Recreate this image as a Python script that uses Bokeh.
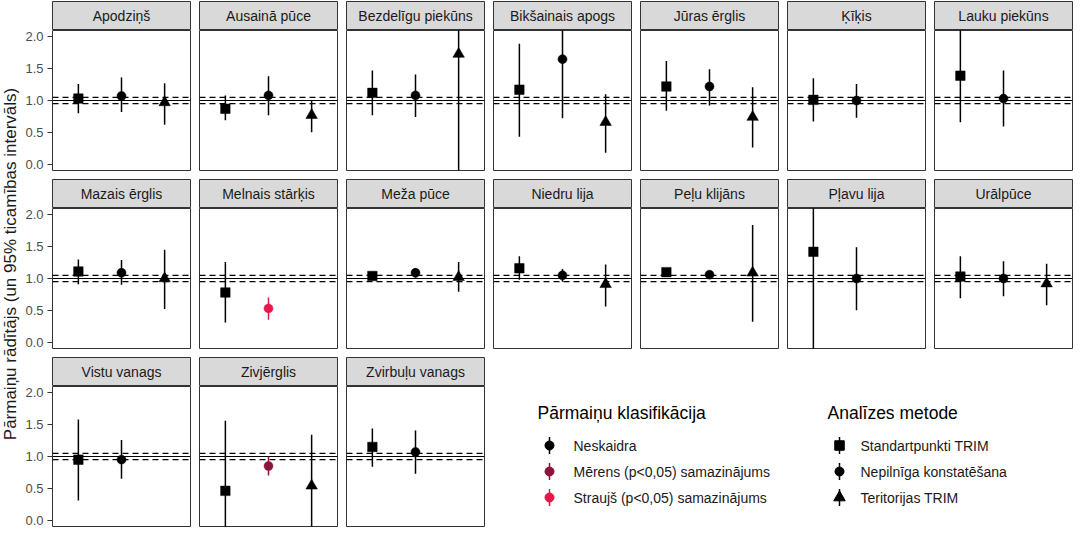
import math
from bokeh.plotting import figure
from bokeh.models import Range1d, Span, FixedTicker, PrintfTickFormatter, ColumnDataSource
from bokeh.layouts import row, column
from bokeh.embed import file_html
from bokeh.resources import INLINE
from bokeh.core.properties import value

# ---------------- data ----------------
species = ["Apodziņš", "Ausainā pūce", "Bezdelīgu piekūns", "Bikšainais apogs",
           "Jūras ērglis", "Ķīķis", "Lauku piekūns",
           "Mazais ērglis", "Melnais stārķis", "Meža pūce", "Niedru lija",
           "Peļu klijāns", "Pļavu lija", "Urālpūce",
           "Vistu vanags", "Zivjērglis", "Zvirbuļu vanags"]

methods = ["Standartpunkti TRIM", "Nepilnīga konstatēšana", "Teritorijas TRIM"]
classes = ["Neskaidra", "Mērens (p<0,05) samazinājums", "Straujš (p<0,05) samazinājums"]

# Standartpunkti TRIM
std_est = [1.03, 0.87, 1.12, 1.17, 1.22, 1.01, 1.39, 1.11, 0.78, 1.04, 1.16, 1.10, 1.42, 1.03, 0.95, 0.46, 1.15]
std_lo  = [0.80, 0.69, 0.77, 0.43, 0.84, 0.67, 0.66, 0.91, 0.31, 0.98, 0.98, 1.03, -0.20, 0.69, 0.31, -0.64, 0.84]
std_hi  = [1.26, 1.08, 1.47, 1.89, 1.62, 1.35, 2.14, 1.30, 1.26, 1.09, 1.35, 1.16, 3.04, 1.35, 1.58, 1.56, 1.44]
std_cls = ["Neskaidra"] * 17

# Nepilnīga konstatēšana
nep_est = [1.07, 1.08, 1.08, 1.65, 1.22, 1.00, 1.03, 1.09, 0.53, 1.09, 1.05, 1.06, 1.00, 1.00, 0.95, 0.85, 1.07]
nep_lo  = [0.82, 0.77, 0.74, 0.72, 0.92, 0.73, 0.59, 0.90, 0.35, 1.01, 0.95, 1.00, 0.50, 0.72, 0.65, 0.70, 0.73]
nep_hi  = [1.36, 1.38, 1.41, 2.58, 1.49, 1.26, 1.47, 1.29, 0.70, 1.16, 1.15, 1.11, 1.49, 1.27, 1.26, 1.00, 1.41]
nep_cls = ["Neskaidra", "Neskaidra", "Neskaidra", "Neskaidra", "Neskaidra", "Neskaidra", "Neskaidra",
           "Neskaidra", "Straujš (p<0,05) samazinājums", "Neskaidra", "Neskaidra", "Neskaidra",
           "Neskaidra", "Neskaidra", "Neskaidra", "Mērens (p<0,05) samazinājums", "Neskaidra"]

# Teritorijas TRIM
ter_est = [0.97, 0.77, 1.73, 0.66, 0.74, None, None, 1.00, None, 1.02, 0.91, 1.09, None, 0.92, None, 0.54, None]
ter_lo  = [0.62, 0.50, -0.30, 0.18, 0.26, None, None, 0.52, None, 0.79, 0.56, 0.32, None, 0.58, None, -0.26, None]
ter_hi  = [1.27, 1.00, 3.76, 1.10, 1.21, None, None, 1.45, None, 1.26, 1.22, 1.84, None, 1.23, None, 1.34, None]
ter_cls = ["Neskaidra"] * 17

ref_line = 1.0
ref_band = [0.95, 1.05]
y_ticks = [0.0, 0.5, 1.0, 1.5, 2.0]

# ---------------- styles ----------------
FONT = "Liberation Sans"
class_color = {"Neskaidra": "#000000",
               "Mērens (p<0,05) samazinājums": "#8B1538",
               "Straujš (p<0,05) samazinājums": "#E8174A"}
method_marker = {"Standartpunkti TRIM": "square",
                 "Nepilnīga konstatēšana": "circle",
                 "Teritorijas TRIM": "triangle"}
method_size = {"Standartpunkti TRIM": 9.5,
               "Nepilnīga konstatēšana": 9,
               "Teritorijas TRIM": 11.5}

series = [(std_est, std_lo, std_hi, std_cls),
          (nep_est, nep_lo, nep_hi, nep_cls),
          (ter_est, ter_lo, ter_hi, ter_cls)]

FW, FH = 138, 140      # frame size
AXW = 32               # left axis room for first column
STRIP_H = 30
GAP = 7
NCOL = 7


def base_fig(**kw):
    f = figure(output_backend="svg", toolbar_location=None, title=None,
               x_axis_location=None, y_axis_location=None, **kw)
    f.grid.visible = False
    f.border_fill_color = "white"
    return f


def strip_fig(name, first):
    f = base_fig(width=(AXW + FW + 1) if first else FW + 2, height=STRIP_H,
                 x_range=Range1d(0, 1), y_range=Range1d(0, 1),
                 min_border_left=AXW if first else 1, min_border_right=1,
                 min_border_top=1, min_border_bottom=0)
    f.background_fill_color = "#D9D9D9"
    f.outline_line_color = "#333333"
    f.outline_line_width = 1
    f.text(x=[0.5], y=[0.5], text=[name], text_align="center", text_baseline="middle",
           text_font=value(FONT), text_font_size="14px", text_color="#1A1A1A")
    return f


def panel_fig(i, first):
    f = figure(output_backend="svg", toolbar_location=None, title=None,
               width=(AXW + FW + 1) if first else FW + 2, height=FH + 1,
               x_range=Range1d(0.4, 3.6), y_range=Range1d(-0.1, 2.1),
               x_axis_location=None, y_axis_location="left" if first else None,
               min_border_left=AXW if first else 1, min_border_right=1,
               min_border_top=0, min_border_bottom=1)
    f.grid.visible = False
    f.border_fill_color = "white"
    f.background_fill_color = "white"
    f.outline_line_color = "#333333"
    f.outline_line_width = 1
    if first:
        ax = f.yaxis[0]
        ax.ticker = FixedTicker(ticks=y_ticks)
        ax.formatter = PrintfTickFormatter(format="%.1f")
        ax.axis_line_color = None
        ax.major_tick_line_color = "#333333"
        ax.major_tick_out = 5
        ax.major_tick_in = 0
        ax.minor_tick_line_color = None
        ax.major_label_standoff = 4
        ax.major_label_text_font = FONT
        ax.major_label_text_font_size = "13px"
        ax.major_label_text_color = "#4D4D4D"

    f.add_layout(Span(location=ref_line, dimension="width", line_color="black",
                      line_width=1.2, level="underlay"))
    for loc in ref_band:
        f.add_layout(Span(location=loc, dimension="width", line_color="black",
                          line_width=1.2, line_dash="6 4", level="underlay"))

    xs, ys, lo, hi, col, mk, sz = [], [], [], [], [], [], []
    for m_idx, (est, l, h, cl) in enumerate(series):
        if est[i] is None:
            continue
        m = methods[m_idx]
        xs.append(m_idx + 1)
        ys.append(est[i])
        lo.append(l[i])
        hi.append(h[i])
        col.append(class_color[cl[i]])
        mk.append(method_marker[m])
        sz.append(method_size[m])
    src = ColumnDataSource(dict(x=xs, y=ys, lo=lo, hi=hi, color=col, marker=mk, size=sz))
    f.segment(x0="x", y0="lo", x1="x", y1="hi", line_color="color", line_width=1.5, source=src)
    f.scatter(x="x", y="y", marker="marker", size="size", fill_color="color",
              line_color="color", line_width=0.5, source=src)
    return f


def cell(i, first):
    return column(strip_fig(species[i], first), panel_fig(i, first), spacing=0)


# legend figure
LEG_W = 1073 - 20 - (AXW + FW + 1) - 2 * (GAP + FW + 2) - GAP
LEG_H = STRIP_H + FH + 1


def legend_fig():
    f = base_fig(width=LEG_W, height=LEG_H, x_range=Range1d(0, LEG_W), y_range=Range1d(LEG_H, 0),
                 min_border_left=0, min_border_right=0, min_border_top=0, min_border_bottom=0)
    f.outline_line_color = None
    f.background_fill_color = "white"
    tx1, kx1, lx1 = 45, 57, 81
    tx2, kx2, lx2 = 335, 347, 368
    ty, y0, dy = 56, 89, 26
    f.text(x=[tx1, tx2], y=[ty, ty], text=["Pārmaiņu klasifikācija", "Analīzes metode"],
           text_align="left", text_baseline="middle", text_font=value(FONT),
           text_font_size="17.5px", text_color="#000000")
    ky = [y0 + dy * k for k in range(len(classes))]
    f.segment(x0=[kx1] * len(classes), y0=[y - 8.5 for y in ky], x1=[kx1] * len(classes),
              y1=[y + 8.5 for y in ky], line_color=[class_color[c] for c in classes], line_width=1.5)
    f.scatter(x=[kx1] * len(classes), y=ky, marker="circle", size=9,
              color=[class_color[c] for c in classes])
    f.text(x=[lx1] * len(classes), y=ky, text=classes, text_align="left", text_baseline="middle",
           text_font=value(FONT), text_font_size="14px", text_color="#1A1A1A")
    my = [y0 + dy * k for k in range(len(methods))]
    f.segment(x0=[kx2] * len(methods), y0=[y - 8.5 for y in my], x1=[kx2] * len(methods),
              y1=[y + 8.5 for y in my], line_color="black", line_width=1.5)
    f.scatter(x=[kx2] * len(methods), y=my, marker=[method_marker[m] for m in methods],
              size=[method_size[m] for m in methods], color="black")
    f.text(x=[lx2] * len(methods), y=my, text=methods, text_align="left", text_baseline="middle",
           text_font=value(FONT), text_font_size="14px", text_color="#1A1A1A")
    return f


rows = []
for r in range(3):
    cells = []
    for c in range(NCOL):
        i = r * NCOL + c
        if i >= len(species):
            break
        cells.append(cell(i, c == 0))
    if r == 2:
        cells.append(legend_fig())
    rows.append(row(*cells, spacing=GAP))

grid = column(*rows, spacing=GAP)

TOTAL_H = 3 * LEG_H + 2 * GAP
ylab = base_fig(width=20, height=TOTAL_H, x_range=Range1d(0, 20), y_range=Range1d(0, TOTAL_H),
                min_border_left=0, min_border_right=0, min_border_top=0, min_border_bottom=0)
ylab.outline_line_color = None
ylab.text(x=[10], y=[TOTAL_H / 2], text=["Pārmaiņu rādītājs (un 95% ticamības intervāls)"],
          angle=math.pi / 2, text_align="center", text_baseline="middle",
          text_font=value(FONT), text_font_size="17px", text_color="#1A1A1A")

root = row(ylab, grid, spacing=0)

open("out.html", "w").write(file_html(root, INLINE))
